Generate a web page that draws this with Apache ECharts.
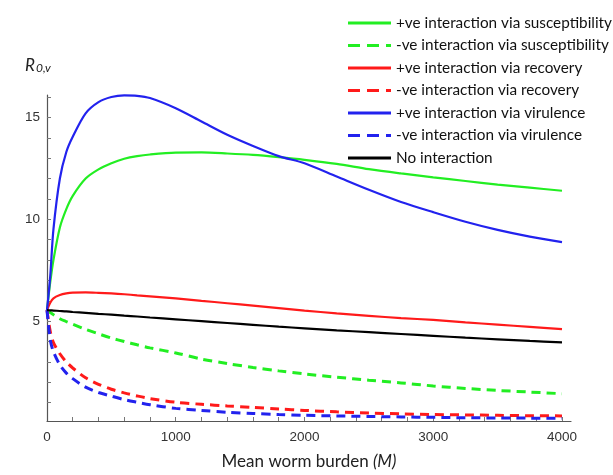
<!DOCTYPE html>
<html>
<head>
<meta charset="utf-8">
<script src="https://cdn.jsdelivr.net/npm/echarts@6/dist/echarts.min.js"></script>
<style>html,body{margin:0;padding:0;background:#fff}#c{width:613px;height:475px}</style>
</head>
<body>
<div id="c"></div>
<script>
var M = [0, 25, 50, 100, 150, 200, 300, 400, 500, 600, 700, 800, 1000, 1200, 1400, 1600, 1800, 2000, 2250, 2500, 2750, 3000, 3250, 3500, 3750, 4000];
var susPos = [5.54, 6.9, 8.0, 9.6, 10.5, 11.15, 12.0, 12.45, 12.75, 12.97, 13.1, 13.18, 13.27, 13.28, 13.23, 13.16, 13.05, 12.92, 12.72, 12.46, 12.25, 12.06, 11.88, 11.7, 11.55, 11.4];
var susNeg = [5.54, 5.42, 5.32, 5.12, 4.98, 4.85, 4.6, 4.38, 4.17, 4.0, 3.84, 3.69, 3.44, 3.14, 2.92, 2.73, 2.56, 2.41, 2.25, 2.1, 1.97, 1.82, 1.7, 1.6, 1.52, 1.44];
var recPos = [5.54, 5.9, 6.12, 6.28, 6.36, 6.4, 6.41, 6.39, 6.36, 6.32, 6.27, 6.22, 6.12, 6.0, 5.88, 5.76, 5.64, 5.52, 5.38, 5.26, 5.15, 5.06, 4.94, 4.83, 4.72, 4.61];
var recNeg = [5.54, 4.5, 3.95, 3.4, 3.0, 2.7, 2.22, 1.9, 1.66, 1.48, 1.33, 1.2, 1.02, 0.92, 0.84, 0.77, 0.69, 0.62, 0.55, 0.49, 0.45, 0.42, 0.4, 0.38, 0.36, 0.35];
var virPos = [5.54, 7.2, 9.5, 12.0, 13.3, 14.05, 15.2, 15.75, 16.0, 16.08, 16.06, 15.95, 15.45, 14.8, 14.15, 13.6, 13.1, 12.75, 12.1, 11.45, 10.85, 10.35, 9.88, 9.48, 9.15, 8.88];
var virNeg = [5.54, 4.1, 3.5, 2.85, 2.45, 2.18, 1.76, 1.5, 1.32, 1.15, 1.02, 0.9, 0.72, 0.62, 0.53, 0.47, 0.42, 0.38, 0.35, 0.32, 0.3, 0.28, 0.26, 0.25, 0.24, 0.23];
var noInt = [5.54, 5.53, 5.52, 5.5, 5.48, 5.45, 5.41, 5.36, 5.32, 5.27, 5.23, 5.18, 5.09, 5.0, 4.91, 4.82, 4.73, 4.65, 4.55, 4.46, 4.37, 4.28, 4.19, 4.11, 4.03, 3.96];

var xLabels = [0, 1000, 2000, 3000, 4000];
var xTicks = [200, 400, 600, 800, 1000, 1200, 1400, 1600, 1800, 2000, 2200, 2400, 2600, 2800, 3000, 3200, 3400, 3600, 3800, 4000];
var yLabels = [5, 10, 15];
var yTicks = [1, 2, 3, 4, 5, 6, 7, 8, 9, 10, 11, 12, 13, 14, 15, 16];

var names = ['+ve interaction via susceptibility', '-ve interaction via susceptibility', '+ve interaction via recovery', '-ve interaction via recovery', '+ve interaction via virulence', '-ve interaction via virulence', 'No interaction'];
var values = [susPos, susNeg, recPos, recNeg, virPos, virNeg, noInt];
var colors = ['#22ee22', '#22ee22', '#ff1a1a', '#ff1a1a', '#2222ee', '#2222ee', '#000000'];
var dashed = [false, true, false, true, false, true, false];

var solidIcon = 'path://M0,0H43V3H0Z';
var dashIcon = 'path://M0,0H12V3H0Z M19,0H31V3H19Z M38,0H43V3H38Z';

function pairs(arr) { return M.map(function (m, i) { return [m, arr[i]]; }); }

var series = names.map(function (n, k) {
  return {
    name: n, type: 'line',
    data: pairs(values[k]), showSymbol: false, symbol: 'none',
    smooth: 0.3,
    lineStyle: { color: colors[k], width: dashed[k] ? 3 : 2.2, type: dashed[k] ? [9, 6] : 'solid' },
    itemStyle: { color: colors[k] }
  };
});

var axisCol = '#555';
var chart = echarts.init(document.getElementById('c'));
chart.setOption({
  animation: false,
  grid: { left: 47, right: 42, top: 95, bottom: 52, containLabel: false },
  legend: {
    orient: 'vertical', left: 343, top: 10,
    itemWidth: 43, itemHeight: 3, itemGap: 6.5,
    textStyle: { fontFamily: 'Lato', fontSize: 15.3, color: '#111', lineHeight: 16 },
    data: names.map(function (n, k) { return { name: n, icon: dashed[k] ? dashIcon : solidIcon }; })
  },
  xAxis: {
    type: 'value', min: 0, max: 4070,
    axisLine: { lineStyle: { color: axisCol, width: 1.2 } },
    axisTick: { inside: true, length: 4, customValues: xTicks, lineStyle: { color: '#777' } },
    axisLabel: { customValues: xLabels, margin: 9, fontFamily: 'Liberation Sans', fontSize: 13.5, color: '#333',
      formatter: function (v) { return String(v); } },
    splitLine: { show: false },
    name: '{a|Mean worm burden }{b|(M)}', nameLocation: 'middle', nameGap: 32,
    nameTextStyle: { rich: {
      a: { fontFamily: 'Lato', fontSize: 17, color: '#222' },
      b: { fontFamily: 'Lato', fontSize: 17, fontStyle: 'italic', color: '#222' }
    } }
  },
  yAxis: {
    type: 'value', min: 0.1, max: 16.1,
    axisLine: { show: true, lineStyle: { color: axisCol, width: 1.2 } },
    axisTick: { show: true, inside: true, length: 4, customValues: yTicks, lineStyle: { color: '#777' } },
    axisLabel: { customValues: yLabels, margin: 7, fontFamily: 'Liberation Sans', fontSize: 13.5, color: '#333' },
    splitLine: { show: false }
  },
  graphic: [{
    type: 'text', left: 25, top: 57,
    style: {
      text: '{r|R}{s|0,v}',
      rich: {
        r: { fontFamily: 'Lato', fontSize: 17, fontStyle: 'italic', fill: '#222' },
        s: { fontFamily: 'Lato', fontSize: 12, fontStyle: 'italic', fill: '#222', verticalAlign: 'bottom', padding: [6, 0, 0, 1] }
      }
    }
  }],
  series: series
});
</script>
</body>
</html>
